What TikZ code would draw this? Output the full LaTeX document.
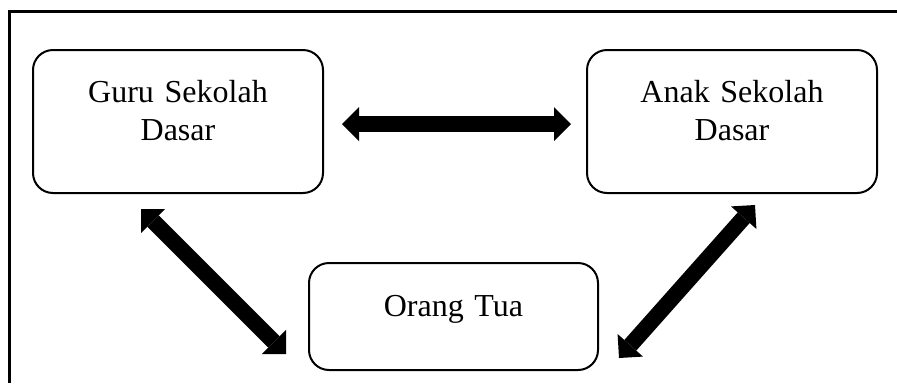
\documentclass[tikz,border=0pt]{standalone}
\usepackage{fontspec}
\setmainfont{Liberation Serif}
\usetikzlibrary{arrows.meta,calc}

\tikzset{
  roundbox/.style={draw, line width=1.5pt, rounded corners=15pt, inner sep=0pt,
    minimum width=217.5pt},
  boxtext/.style={anchor=base, inner sep=0pt, text width=200pt, align=center,
    font=\fontsize{24}{28.5}\selectfont},
  biarrow/.style={line width=12pt,
    {Triangle[length=12.75pt,width=25.5pt,line width=0pt]}-{Triangle[length=12.75pt,width=25.5pt,line width=0pt]}},
  frameline/.style={line width=2.25pt, line join=miter}
}

\begin{document}
\begin{tikzpicture}[x=0.75pt, y=-0.75pt]
  \useasboundingbox (0,0) rectangle (897,383);

  % open frame: top and left edges only
  \draw[frameline] (897,11) -- (9.5,11) -- (9.5,383);

  % the three parties
  \node[roundbox, minimum height=107.25pt] (guru) at (178,121.5) {};
  \node[roundbox, minimum height=107.25pt] (anak) at (732,121.5) {};
  \node[roundbox, minimum height=80.25pt, minimum width=216.75pt] (ortu) at (453.5,316.5) {};

  \node[boxtext] (guruT) at (178,102) {Guru Sekolah\\Dasar};
  \node[boxtext] (anakT) at (732,102) {Anak Sekolah\\Dasar};
  \node[boxtext] (ortuT) at (453.5,316) {Orang Tua};

  % arrow ends, placed next to the boxes
  \coordinate (h1) at ($(guru.east)+(18,2.5)$);
  \coordinate (h2) at ($(anak.west)+(-15,2.5)$);
  \coordinate (l1) at ($(guru.south)+(-37,15)$);
  \coordinate (l2) at ($(ortu.west)+(-22,37.5)$);
  \coordinate (r1) at ($(anak.south)+(23,11)$);
  \coordinate (r2) at ($(ortu.east)+(20,41.5)$);

  % two-way relations
  \draw[biarrow] (h1) -- (h2);
  \draw[biarrow] (l1) -- (l2);
  \draw[biarrow] (r1) -- (r2);
\end{tikzpicture}
\end{document}
